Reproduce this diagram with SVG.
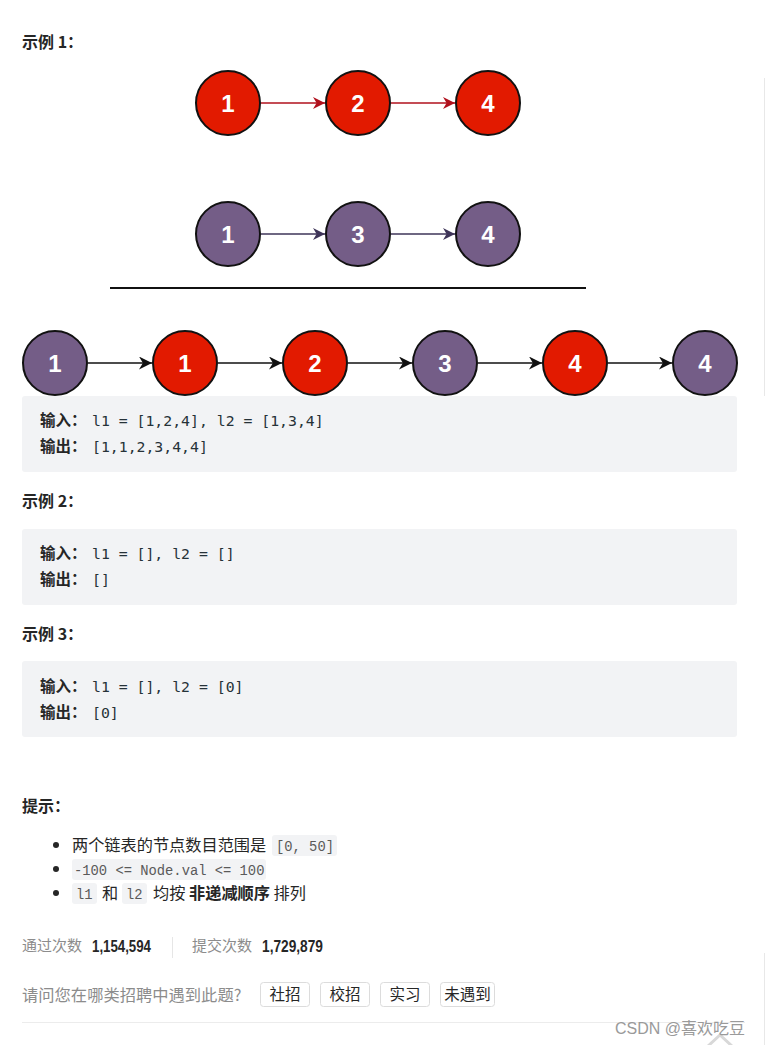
<svg xmlns="http://www.w3.org/2000/svg" width="766" height="1045" viewBox="0 0 766 1045">
<style>
.h{font-family:"Noto Sans CJK SC","Liberation Sans",sans-serif;font-weight:bold;font-size:16px;fill:#262626}
.num{font-family:"Liberation Sans",Arial,sans-serif;font-weight:bold;font-size:24px;fill:#ffffff;text-anchor:middle}
.red{fill:#e21a00;stroke:#111;stroke-width:2}
.pur{fill:#745d87;stroke:#111;stroke-width:2}
.box{fill:#f2f3f5}
.lbl{font-family:"Noto Sans CJK SC",sans-serif;font-weight:bold;font-size:15.5px;fill:#262626}
.code{font-family:"DejaVu Sans Mono","Liberation Mono",monospace;font-size:14.8px;fill:#263238}
.txt{font-family:"Noto Sans CJK SC",sans-serif;font-size:16.2px;fill:#262626}
.ic{fill:#f2f3f5}
.icode{font-family:"Liberation Mono","Noto Sans CJK SC",monospace;font-size:13.8px;fill:#5a5a5a}
.gray{font-family:"Noto Sans CJK SC",sans-serif;font-size:15px;fill:#8c8c8c}
.q{font-family:"Noto Sans CJK SC",sans-serif;font-size:16.3px;fill:#8c8c8c}
.stat{font-family:"Liberation Sans",Arial,sans-serif;font-weight:bold;font-size:16px;fill:#262626}
.btn{fill:#fff;stroke:#dcdcdc;stroke-width:1}
.btxt{font-family:"Noto Sans CJK SC",sans-serif;font-size:15.5px;fill:#262626;text-anchor:middle}
.wm{font-family:"Liberation Sans","Noto Sans CJK SC",sans-serif;font-size:16px;fill:#9a9a9a}
</style>
<defs>
<marker id="ar" viewBox="0 0 10 10" refX="10" refY="5" markerWidth="12" markerHeight="12" markerUnits="userSpaceOnUse" orient="auto"><path d="M0,0 L10,5 L0,10 L3,5 z" fill="#b0101c"/></marker>
<marker id="ap" viewBox="0 0 10 10" refX="10" refY="5" markerWidth="12" markerHeight="12" markerUnits="userSpaceOnUse" orient="auto"><path d="M0,0 L10,5 L0,10 L3,5 z" fill="#3e3458"/></marker>
<marker id="ab" viewBox="0 0 10 10" refX="10" refY="5" markerWidth="13" markerHeight="13" markerUnits="userSpaceOnUse" orient="auto"><path d="M0,0 L10,5 L0,10 L3,5 z" fill="#111"/></marker>
</defs>
<rect width="766" height="1045" fill="#fff"/>
<line x1="764.5" y1="78" x2="764.5" y2="396" stroke="#e8e8e8" stroke-width="1"/>
<line x1="764.5" y1="953" x2="764.5" y2="1045" stroke="#e8e8e8" stroke-width="1"/>

<text class="h" x="22" y="48">示例 1：</text>

<g id="connectors">
<line x1="261" y1="103" x2="325" y2="103" stroke="#b0101c" stroke-width="1.6" marker-end="url(#ar)"/>
<line x1="391" y1="103" x2="455" y2="103" stroke="#b0101c" stroke-width="1.6" marker-end="url(#ar)"/>
<line x1="261" y1="234" x2="325" y2="234" stroke="#3e3458" stroke-width="1.6" marker-end="url(#ap)"/>
<line x1="391" y1="234" x2="455" y2="234" stroke="#3e3458" stroke-width="1.6" marker-end="url(#ap)"/>
<line x1="88" y1="363" x2="152" y2="363" stroke="#111" stroke-width="1.6" marker-end="url(#ab)"/>
<line x1="218" y1="363" x2="282" y2="363" stroke="#111" stroke-width="1.6" marker-end="url(#ab)"/>
<line x1="348" y1="363" x2="412" y2="363" stroke="#111" stroke-width="1.6" marker-end="url(#ab)"/>
<line x1="478" y1="363" x2="542" y2="363" stroke="#111" stroke-width="1.6" marker-end="url(#ab)"/>
<line x1="608" y1="363" x2="672" y2="363" stroke="#111" stroke-width="1.6" marker-end="url(#ab)"/>
</g>

<g id="a1"><circle class="red" cx="228" cy="103" r="32"/><text class="num" x="228" y="112">1</text></g>
<g id="a2"><circle class="red" cx="358" cy="103" r="32"/><text class="num" x="358" y="112">2</text></g>
<g id="a4"><circle class="red" cx="488" cy="103" r="32"/><text class="num" x="488" y="112">4</text></g>
<g id="b1"><circle class="pur" cx="228" cy="234" r="32"/><text class="num" x="228" y="243">1</text></g>
<g id="b3"><circle class="pur" cx="358" cy="234" r="32"/><text class="num" x="358" y="243">3</text></g>
<g id="b4"><circle class="pur" cx="488" cy="234" r="32"/><text class="num" x="488" y="243">4</text></g>

<line x1="110" y1="288" x2="586" y2="288" stroke="#111" stroke-width="2"/>

<g id="m1"><circle class="pur" cx="55" cy="363" r="32"/><text class="num" x="55" y="372">1</text></g>
<g id="m2"><circle class="red" cx="185" cy="363" r="32"/><text class="num" x="185" y="372">1</text></g>
<g id="m3"><circle class="red" cx="315" cy="363" r="32"/><text class="num" x="315" y="372">2</text></g>
<g id="m4"><circle class="pur" cx="445" cy="363" r="32"/><text class="num" x="445" y="372">3</text></g>
<g id="m5"><circle class="red" cx="575" cy="363" r="32"/><text class="num" x="575" y="372">4</text></g>
<g id="m6"><circle class="pur" cx="705" cy="363" r="32"/><text class="num" x="705" y="372">4</text></g>

<g id="ex1">
<rect class="box" x="22" y="396" width="715" height="76" rx="3"/>
<text class="lbl" x="40" y="426">输入：</text><text class="code" x="92" y="426">l1 = [1,2,4], l2 = [1,3,4]</text>
<text class="lbl" x="40" y="452">输出：</text><text class="code" x="92" y="452">[1,1,2,3,4,4]</text>
</g>

<text class="h" x="22" y="507">示例 2：</text>
<g id="ex2">
<rect class="box" x="22" y="529" width="715" height="76" rx="3"/>
<text class="lbl" x="40" y="559">输入：</text><text class="code" x="92" y="559">l1 = [], l2 = []</text>
<text class="lbl" x="40" y="585">输出：</text><text class="code" x="92" y="585">[]</text>
</g>

<text class="h" x="22" y="640">示例 3：</text>
<g id="ex3">
<rect class="box" x="22" y="661" width="715" height="76" rx="3"/>
<text class="lbl" x="40" y="692">输入：</text><text class="code" x="92" y="692">l1 = [], l2 = [0]</text>
<text class="lbl" x="40" y="718">输出：</text><text class="code" x="92" y="718">[0]</text>
</g>

<text class="h" x="22" y="812">提示：</text>
<g id="hints">
<circle cx="56" cy="845" r="3" fill="#262626"/>
<circle cx="56" cy="869" r="3" fill="#262626"/>
<circle cx="56" cy="893" r="3" fill="#262626"/>
<text class="txt" x="72" y="851">两个链表的节点数目范围是</text>
<rect class="ic" x="272" y="835" width="65" height="21" rx="3"/>
<text class="icode" x="276" y="851">[0, 50]</text>
<rect class="ic" x="72" y="859" width="194" height="21" rx="3"/>
<text class="icode" x="74" y="875">-100 &lt;= Node.val &lt;= 100</text>
<rect class="ic" x="72" y="883" width="25" height="21" rx="3"/>
<text class="icode" x="76" y="899">l1</text>
<text class="txt" x="102" y="899">和</text>
<rect class="ic" x="122" y="883" width="25" height="21" rx="3"/>
<text class="icode" x="126" y="899">l2</text>
<text class="txt" x="153" y="899">均按 <tspan font-weight="bold">非递减顺序</tspan> 排列</text>
</g>

<g id="stats">
<text class="gray" x="22" y="951">通过次数</text>
<text class="stat" x="92" y="952" textLength="59" lengthAdjust="spacingAndGlyphs">1,154,594</text>
<line x1="172.5" y1="937" x2="172.5" y2="958" stroke="#e6e6e6"/>
<text class="gray" x="192" y="951">提交次数</text>
<text class="stat" x="262" y="952" textLength="61" lengthAdjust="spacingAndGlyphs">1,729,879</text>
</g>

<g id="survey">
<text class="q" x="22" y="1001">请问您在哪类招聘中遇到此题?</text>
<rect class="btn" x="260.5" y="982.5" width="49" height="24" rx="3"/><text class="btxt" x="285" y="1000">社招</text>
<rect class="btn" x="320.5" y="982.5" width="49" height="24" rx="3"/><text class="btxt" x="345" y="1000">校招</text>
<rect class="btn" x="380.5" y="982.5" width="49" height="24" rx="3"/><text class="btxt" x="405" y="1000">实习</text>
<rect class="btn" x="440.5" y="982.5" width="54" height="24" rx="3"/><text class="btxt" x="467.5" y="1000">未遇到</text>
</g>

<line x1="22" y1="1022.5" x2="745" y2="1022.5" stroke="#ececec" stroke-width="1"/>
<polyline points="708,1046 720,1035 732,1046" fill="none" stroke="#d8d8d8" stroke-width="3"/>
<text class="wm" x="615" y="1034">CSDN @喜欢吃豆</text>
</svg>
